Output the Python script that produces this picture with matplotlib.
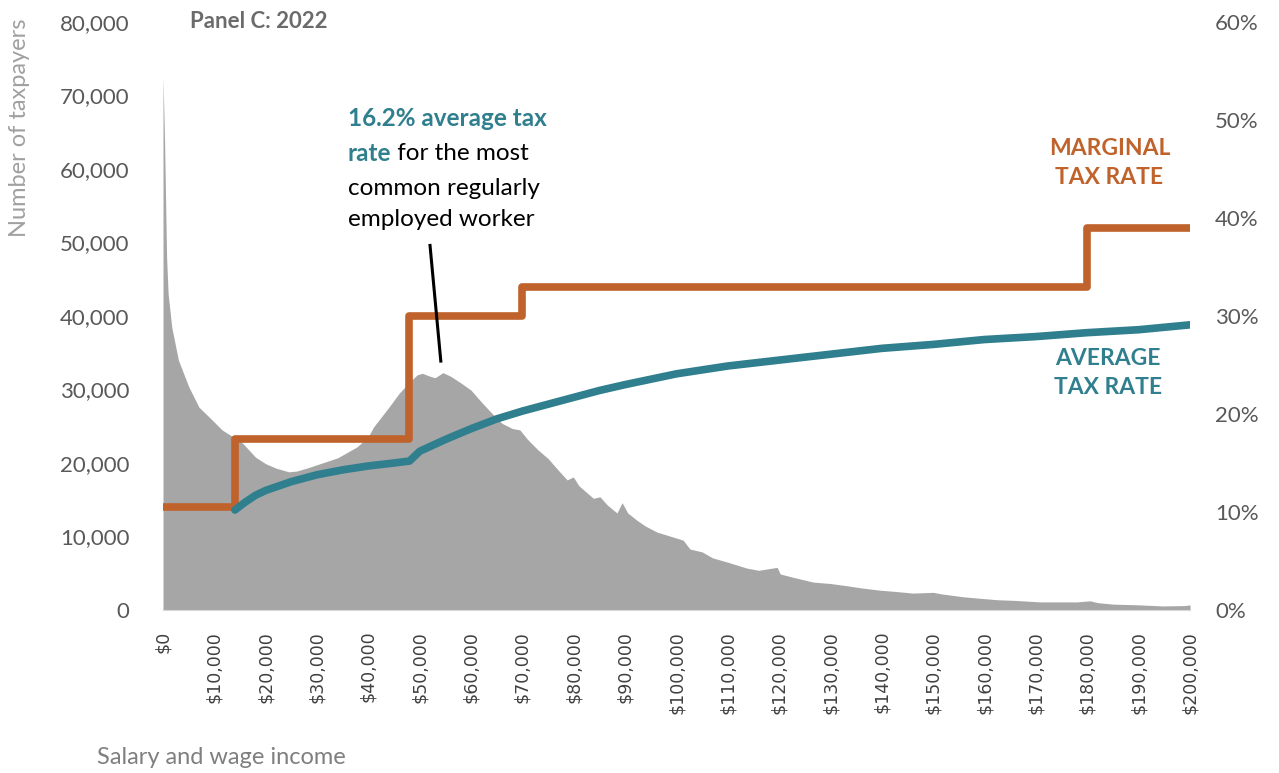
import matplotlib
matplotlib.use("Agg")
import matplotlib.pyplot as plt
from matplotlib.ticker import FuncFormatter

# taxpayer distribution (salary and wage income, number of taxpayers)
dist_income = [0, 300, 700, 1000, 1700, 3000, 5000, 7000, 9500, 11500,
               14000, 15500, 18000, 20000, 22000, 24500, 26000, 28000, 31000, 34000,
               37800, 40000, 41000, 44000, 46000, 48000, 49500, 50500, 52000, 53000,
               54500, 56000, 58000, 60000, 62000, 64000, 66000, 68000, 69500, 71000,
               73000, 75000, 77000, 78700, 79900, 81000, 83800, 85100, 86500, 88400,
               89400, 90500, 92300, 94000, 96200, 99000, 101300, 102600, 105000, 107000,
               110000, 113700, 116000, 119600, 120200, 123000, 126600, 130000, 133200, 136000,
               139600, 143000, 146000, 150000, 151500, 155800, 159000, 162400, 166000, 170800,
               175000, 178000, 180500, 182000, 185000, 190000, 194700, 199000, 200000]
dist_count = [72500, 64000, 48000, 43000, 38500, 34000, 30400, 27600, 25900, 24500,
              23400, 22700, 20800, 19900, 19300, 18800, 18900, 19300, 20000, 20700,
              22200, 23600, 24900, 27600, 29500, 31000, 32000, 32200, 31800, 31600,
              32300, 31800, 30900, 29900, 28300, 26800, 25400, 24700, 24500, 23200,
              21800, 20600, 19000, 17700, 18100, 16900, 15200, 15400, 14300, 13200,
              14600, 13200, 12200, 11400, 10600, 10000, 9500, 8300, 7900, 7100,
              6500, 5700, 5400, 5800, 4900, 4400, 3800, 3600, 3300, 3000,
              2700, 2500, 2300, 2400, 2200, 1800, 1600, 1400, 1300, 1100,
              1100, 1100, 1250, 1000, 800, 700, 550, 600, 700]

# marginal tax rate steps (%)
mtr_income = [0, 14000, 48000, 70000, 180000, 200000]
mtr_rate = [10.5, 17.5, 30.0, 33.0, 39.0, 39.0]

# average tax rate (%)
atr_income = [14000, 16000, 18000, 20000, 25000, 30000, 35000, 40000, 45000, 48000,
              50000, 55000, 60000, 65000, 70000, 80000, 85000, 90000, 100000, 110000,
              120000, 130000, 140000, 150000, 160000, 170000, 180000, 190000, 200000]
atr_rate = [10.2, 11.0, 11.7, 12.2, 13.1, 13.8, 14.3, 14.7, 15.0, 15.2,
            16.2, 17.4, 18.5, 19.5, 20.3, 21.7, 22.4, 23.0, 24.1, 24.9,
            25.5, 26.1, 26.7, 27.1, 27.6, 27.9, 28.3, 28.6, 29.1]

x_ticks = list(range(0, 200001, 10000))

GREY = "#a6a6a6"
ORANGE = "#c0622b"
TEAL = "#2f7f8e"
FONT = "Lato"

plt.rcParams["font.family"] = [FONT, "DejaVu Sans"]

fig = plt.figure(figsize=(12.79, 7.73), dpi=100)
ax = fig.add_axes([163 / 1279, 1 - 610 / 773, (1190 - 163) / 1279, (610 - 22) / 773])
ax.fill_between(dist_income, dist_count, 0, color=GREY, lw=0)
ax.set_xlim(0, 200000)
ax.set_ylim(0, 80000)
ax.set_yticks(range(0, 80001, 10000))
ax.yaxis.set_major_formatter(FuncFormatter(lambda v, p: f"{int(v):,}"))
ax.tick_params(axis="y", length=0, pad=24, labelsize=16, labelcolor="#595959")
ax.set_xticks(x_ticks)
ax.set_xticklabels([f"${v:,}" for v in x_ticks], rotation=90,
                   family="DejaVu Sans", fontsize=12.5, color="#404040")
ax.tick_params(axis="x", length=0, pad=15)
for s in ["top", "left", "right"]:
    ax.spines[s].set_visible(False)
ax.spines["bottom"].set_color("#d9d9d9")

ax2 = ax.twinx()
ax2.plot(mtr_income, mtr_rate, drawstyle="steps-post", color=ORANGE, lw=5.5,
         solid_capstyle="butt", clip_on=False)
ax2.plot(atr_income, atr_rate, color=TEAL, lw=5.5, solid_capstyle="round")
ax2.set_ylim(0, 60)
ax2.set_yticks(range(0, 61, 10))
ax2.yaxis.set_major_formatter(FuncFormatter(lambda v, p: f"{int(v)}%"))
ax2.tick_params(axis="y", length=0, pad=18, labelsize=16, labelcolor="#595959")
for s in ["top", "left", "right", "bottom"]:
    ax2.spines[s].set_visible(False)

# annotation pointer
ax2.plot([52000, 54100], [37.2, 25.4], color="black", lw=2.2)

# annotation text
tx, fs = 36000, 17.5
ax2.text(tx, 50.2, "16.2% average tax", color=TEAL, fontweight="bold", fontsize=fs, va="center")
t_rate = ax2.text(tx, 46.6, "rate", color=TEAL, fontweight="bold", fontsize=fs, va="center")
fig.canvas.draw()
bb = t_rate.get_window_extent()
x_after = ax2.transData.inverted().transform((bb.x1, 0))[0]
ax2.text(x_after, 46.6, " for the most", color="black", fontsize=fs, va="center")
ax2.text(tx, 43.0, "common regularly", color="black", fontsize=fs, va="center")
ax2.text(tx, 39.8, "employed worker", color="black", fontsize=fs, va="center")

ax2.text(184300, 45.6, "MARGINAL\nTAX RATE", color=ORANGE, fontweight="bold",
         fontsize=16.5, ha="center", va="center", linespacing=1.5)
ax2.text(184000, 24.2, "AVERAGE\nTAX RATE", color=TEAL, fontweight="bold",
         fontsize=16.5, ha="center", va="center", linespacing=1.5)

fig.text(190 / 1279, 1 - 22 / 773, "Panel C: 2022", color="#6b6b6b", fontweight="bold",
         fontsize=16, va="center")
fig.text(20 / 1279, 1 - 128 / 773, "Number of taxpayers", color="#a0a0a0",
         fontsize=17, rotation=90, ha="center", va="center")
fig.text(97 / 1279, 1 - 757 / 773, "Salary and wage income", color="#7f7f7f",
         fontsize=17, va="center")

fig.savefig("out.png", dpi=100)
